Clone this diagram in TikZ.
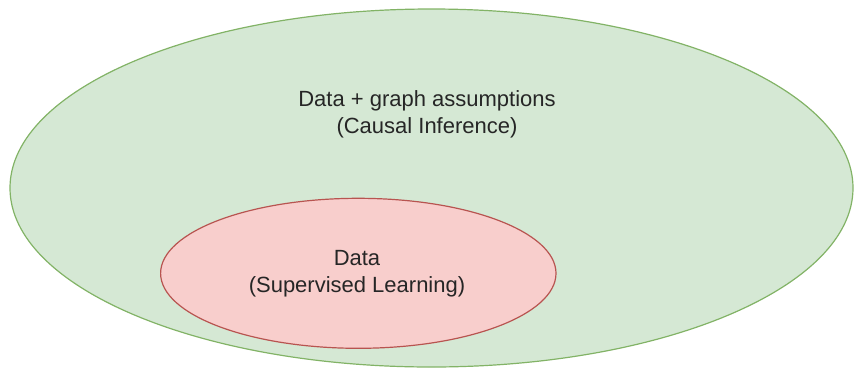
\documentclass[tikz,border=0pt]{standalone}
\usepackage{fontspec}
\setmainfont{Liberation Sans}
\definecolor{outerfill}{HTML}{D5E8D4}
\definecolor{outerline}{HTML}{82B366}
\definecolor{innerfill}{HTML}{F8CECC}
\definecolor{innerline}{HTML}{B85450}
\tikzset{
    label text/.style = {align=center, text=black!85, font=\fontsize{22}{27}\selectfont}
}
\begin{document}
\begin{tikzpicture}[x=1pt, y=-1pt]
            \useasboundingbox (0,0) rectangle (854,368);

            \draw[fill=outerfill, draw=outerline, line width = 1.2pt] (431.5,188) ellipse (421.5pt and 179pt);
            \draw[fill=innerfill, draw=innerline, line width = 1.2pt] (358.3,273.3) ellipse (197.7pt and 75pt);

            \node[label text] (causal) at (427,114) {Data + graph assumptions\\(Causal Inference)};
            \node[label text] (supervised) at (357,274) {Data\\(Supervised Learning)};
        \end{tikzpicture}
\end{document}
